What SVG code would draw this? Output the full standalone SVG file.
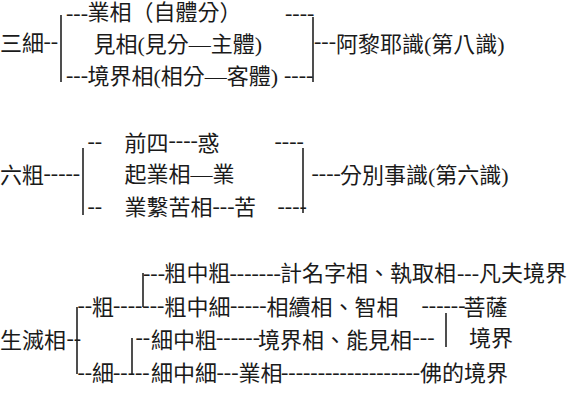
<svg xmlns="http://www.w3.org/2000/svg" width="572" height="400" viewBox="0 0 572 400">
<style>
text{font-family:"Liberation Serif","Noto Sans CJK TC",serif;font-size:22px;fill:#1a1a1a}
.v{stroke:#222;stroke-width:1.6}
</style>
<rect width="572" height="400" fill="#fff"/>
<g id="connectors">
<line class="v" x1="61" y1="15" x2="61" y2="82"/>
<line class="v" x1="313" y1="17" x2="313" y2="82"/>
<line class="v" x1="83" y1="148" x2="83" y2="215"/>
<line class="v" x1="303" y1="148" x2="303" y2="213"/>
<line class="v" x1="77" y1="307" x2="77" y2="374"/>
<line class="v" x1="143" y1="273" x2="143" y2="307"/>
<line class="v" x1="132" y1="338" x2="132" y2="374"/>
<line class="v" x1="446" y1="313" x2="446" y2="347"/>
<text x="43.5" y="48">--</text>
<text x="66" y="19.6">---</text>
<text x="285" y="19.6">----</text>
<text x="66" y="82">---</text>
<text x="284" y="82">----</text>
<text x="314" y="48">---</text>
<text x="43.5" y="180">-----</text>
<text x="87.5" y="148">--</text>
<text x="168.5" y="147">----</text>
<text x="274.5" y="148">----</text>
<text x="87.5" y="213">--</text>
<text x="212.5" y="213">---</text>
<text x="277.5" y="213">----</text>
<text x="311.5" y="180">----</text>
<text x="66.5" y="345">--</text>
<text x="77.5" y="312">--</text>
<text x="113" y="312">-------</text>
<text x="143" y="280">---</text>
<text x="229.5" y="280">-------</text>
<text x="457" y="280">---</text>
<text x="230" y="312">-----</text>
<text x="421.5" y="312">------</text>
<text x="135.5" y="344">--</text>
<text x="216" y="344">------</text>
<text x="412.5" y="344">---</text>
<text x="77.5" y="379">--</text>
<text x="113" y="379">-----</text>
<text x="216.5" y="379">---</text>
<text x="281" y="379">-------------------</text>
</g>
<g id="sanxi">
<text x="0" y="51">三細</text>
<text x="87.5" y="19.6">業相（自體分）</text>
<text x="93.5" y="51.5">見相(見分—主體)</text>
<text x="87.5" y="83.5">境界相(相分—客體)</text>
<text x="336" y="51.5">阿黎耶識(第八識)</text>
</g>
<g id="liucu">
<text x="0" y="183">六粗</text>
<text x="124.5" y="150.5">前四</text>
<text x="197.5" y="150.5">惑</text>
<text x="124.5" y="181.5">起業相—業</text>
<text x="124.5" y="215">業繫苦相</text>
<text x="234" y="215">苦</text>
<text x="340" y="183">分別事識(第六識)</text>
</g>
<g id="shengmie">
<text x="0" y="348">生滅相</text>
<text x="92" y="315.4">粗</text>
<text x="92" y="381.4">細</text>
<text x="164.5" y="281.4">粗中粗</text>
<text x="280" y="281.4">計名字相、執取相</text>
<text x="479" y="281.4">凡夫境界</text>
<text x="164.5" y="315.4">粗中細</text>
<text x="266.5" y="315.4">相續相、智相</text>
<text x="463.5" y="315.4">菩薩</text>
<text x="151" y="348.4">細中粗</text>
<text x="258" y="348.4">境界相、能見相</text>
<text x="469" y="346.4">境界</text>
<text x="151" y="381.4">細中細</text>
<text x="238.5" y="381.4">業相</text>
<text x="420" y="381.4">佛的境界</text>
</g>
</svg>
